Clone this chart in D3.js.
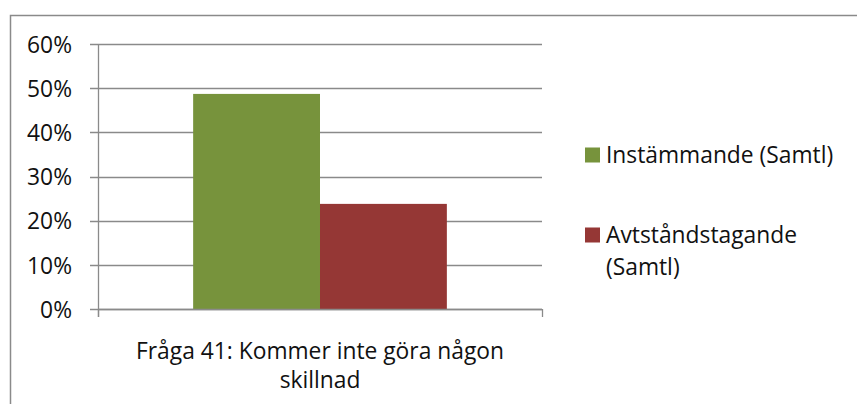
<!DOCTYPE html>
<html>
<head>
<meta charset="utf-8">
<script src="https://cdn.jsdelivr.net/npm/d3@7"></script>
<style>
  html, body { margin: 0; padding: 0; background: #fff; }
  svg { display: block; }
  text { font-family: "Open Sans", "Noto Sans", sans-serif; fill: #111; }
</style>
</head>
<body>
<div id="chart"></div>
<script>
const categories = ['Fråga 41: Kommer inte göra någon skillnad'];
const seriesNames = ['Instämmande (Samtl)', 'Avtståndstagande (Samtl)'];
const seriesValues = [[0.487], [0.238]];
const seriesColors = ['#77933c', '#953735'];
const yTicks = [0, 0.1, 0.2, 0.3, 0.4, 0.5, 0.6];

const W = 857, H = 404;
const margin = { top: 44, left: 98, right: 315, bottom: 95 };
const width = W - margin.left - margin.right;
const height = H - margin.top - margin.bottom;
const GRID = '#8a8a8a';
const FS = '22.8px';

const svg = d3.select('#chart').append('svg')
    .attr('width', W)
    .attr('height', H);

// outer chart frame (runs off right and bottom edges)
svg.append('rect')
    .attr('x', 10.5).attr('y', 15.5)
    .attr('width', W + 20).attr('height', H + 20)
    .attr('fill', 'none')
    .attr('stroke', GRID)
    .attr('stroke-width', 1.5);

const g = svg.append('g').attr('transform', `translate(${margin.left},${margin.top})`);

const x = d3.scaleBand().domain(categories).range([0, width]);
const xs = d3.scaleBand().domain(seriesNames).range([0, x.bandwidth()])
    .paddingInner(0).paddingOuter(0.75);
const y = d3.scaleLinear().domain([0, 0.6]).range([height, 0]);

// gridlines
g.selectAll('.grid').data(yTicks).join('line')
    .attr('class', 'grid')
    .attr('x1', -8).attr('x2', width)
    .attr('y1', d => Math.round(y(d)) + 0.5).attr('y2', d => Math.round(y(d)) + 0.5)
    .attr('stroke', GRID).attr('stroke-width', 1.3);

// bars
const rows = [];
seriesNames.forEach((s, i) => {
    categories.forEach((c, j) => rows.push({ s, c, v: seriesValues[i][j], color: seriesColors[i] }));
});
g.selectAll('.bar').data(rows).join('rect')
    .attr('class', 'bar')
    .attr('x', d => x(d.c) + xs(d.s))
    .attr('width', xs.bandwidth())
    .attr('y', d => y(d.v))
    .attr('height', d => y(0) - y(d.v))
    .attr('fill', d => d.color);

// y axis
const yAxis = g.append('g')
    .call(d3.axisLeft(y).tickValues(yTicks).tickSize(8).tickPadding(18).tickFormat(d3.format('.0%')));
yAxis.select('.domain').remove();
yAxis.selectAll('line').remove();
yAxis.selectAll('text').style('font-size', FS).attr('fill', '#111').attr('dy', '0.36em');
g.append('line')
    .attr('x1', 0.5).attr('x2', 0.5).attr('y1', 0).attr('y2', height + 8)
    .attr('stroke', GRID).attr('stroke-width', 1.3);

// x axis
const xAxis = g.append('g').attr('transform', `translate(0,${height})`);
xAxis.append('line')
    .attr('x1', 0).attr('x2', width).attr('y1', 0.5).attr('y2', 0.5)
    .attr('stroke', GRID).attr('stroke-width', 1.3);
xAxis.selectAll('.xtick').data(x.range()).join('line')
    .attr('class', 'xtick')
    .attr('x1', d => d + 0.5).attr('x2', d => d + 0.5).attr('y1', 0).attr('y2', 8)
    .attr('stroke', GRID).attr('stroke-width', 1.3);

function wrap(sel, maxW, lh, firstDy) {
    sel.each(function() {
        const t = d3.select(this);
        const words = t.text().split(/\s+/);
        const xx = t.attr('x');
        t.text(null);
        let line = [];
        let ts = t.append('tspan').attr('x', xx).attr('dy', firstDy || 0);
        words.forEach(w => {
            line.push(w);
            ts.text(line.join(' '));
            if (ts.node().getComputedTextLength() > maxW && line.length > 1) {
                line.pop();
                ts.text(line.join(' '));
                line = [w];
                ts = t.append('tspan').attr('x', xx).attr('dy', lh).text(w);
            }
        });
    });
}

xAxis.selectAll('.xlabel').data(categories).join('text')
    .attr('class', 'xlabel')
    .attr('x', d => x(d) + x.bandwidth() / 2)
    .attr('y', 50)
    .attr('text-anchor', 'middle')
    .style('font-size', FS)
    .text(d => d)
    .call(wrap, 420, 29);

// legend
const legend = svg.append('g').attr('transform', 'translate(585,155)');
const item = legend.selectAll('.item').data(seriesNames).join('g')
    .attr('class', 'item')
    .attr('transform', (d, i) => `translate(0,${i * 80})`);
item.append('rect')
    .attr('x', 0).attr('y', -7.5).attr('width', 15).attr('height', 15)
    .attr('fill', (d, i) => seriesColors[i]);
item.append('text')
    .attr('x', 21).attr('y', 0)
    .style('font-size', FS)
    .text(d => d)
    .call(wrap, 245, 32, '0.36em');
</script>
</body>
</html>
